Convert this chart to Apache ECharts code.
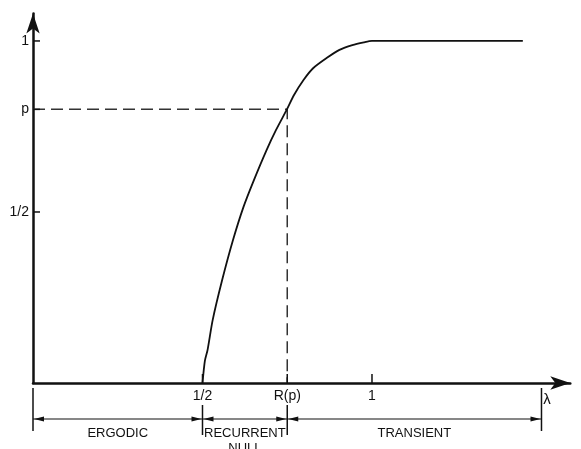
<!DOCTYPE html>
<html><head><meta charset="utf-8">
<script src="https://cdn.jsdelivr.net/npm/echarts@6/dist/echarts.min.js"></script>
<style>html,body{margin:0;padding:0;background:#fff}#c{width:581px;height:449px}</style>
</head><body><div id="c"></div>
<script>
// ---- data ----
const curveLambda = [0.5, 0.507, 0.515, 0.530, 0.558, 0.590, 0.621, 0.652, 0.689, 0.717, 0.749, 0.770, 0.798, 0.827, 0.866, 0.904, 0.942, 0.976, 1.0, 1.445];
const curveValue  = [0,   0.065, 0.097, 0.184, 0.301, 0.418, 0.515, 0.594, 0.681, 0.740, 0.800, 0.842, 0.886, 0.921, 0.950, 0.974, 0.988, 0.996, 1,   1];
const pValue = 0.8;
const rOfP = 0.75;
const xTickValues = [0.5, 0.75, 1];
const xTickLabels = ['1/2', 'R(p)', '1'];
const yTickValues = [0.5, 0.8, 1];
const yTickLabels = ['1/2', 'p', '1'];
const regionBounds = [0, 0.5, 0.75, 1.5];
const regionNames = ['ERGODIC', 'RECURRENT\nNULL', 'TRANSIENT'];
const xAxisName = 'λ';

// ---- chart ----
const FONT = 'Liberation Sans';
const INK = '#111';
const chart = echarts.init(document.getElementById('c'), null, {renderer: 'canvas'});

function arrowHead(x, y, dir) { // dir: -1 left, +1 right ; tip at x
  const L = 10, W = 2.6;
  return {type: 'polygon', shape: {points: [[x, y], [x - dir * L, y - W], [x - dir * L, y + W]]},
          style: {fill: INK}};
}

const option = {
  animation: false,
  backgroundColor: '#fff',
  grid: {left: 33, right: 10.7, top: 13.6, bottom: 66, containLabel: false, outerBoundsMode: 'none'},
  xAxis: {
    type: 'value', min: 0, max: 1.585,
    name: xAxisName, nameLocation: 'end', nameGap: -27,
    nameTextStyle: {fontFamily: FONT, fontSize: 15, color: INK, align: 'left', verticalAlign: 'top', padding: [9, 0, 0, 0]},
    axisLine: {onZero: false, symbol: ['none', 'arrow'], symbolSize: [10, 20], lineStyle: {color: INK, width: 2.5}},
    axisTick: {show: false}, axisLabel: {show: false}, splitLine: {show: false}
  },
  yAxis: {
    type: 'value', min: 0, max: 1.08,
    axisLine: {onZero: false, symbol: ['none', 'arrow'], symbolSize: [10, 20], lineStyle: {color: INK, width: 2.5}},
    axisTick: {show: false}, axisLabel: {show: false}, splitLine: {show: false}
  },
  series: [
    { // the curve
      type: 'line', data: curveLambda.map((x, i) => [x, curveValue[i]]),
      showSymbol: false, smooth: 0.25,
      lineStyle: {color: INK, width: 1.8}, silent: true, z: 5
    },
    { // dashed guide p -> R(p)
      type: 'line', data: [[0, pValue], [rOfP, pValue], [rOfP, 0]],
      showSymbol: false, clip: false,
      lineStyle: {color: '#333', width: 1.5, type: [12, 6]}, silent: true, z: 4
    },
    { // y ticks and labels
      type: 'custom', coordinateSystem: 'cartesian2d', clip: false, silent: true, z: 6,
      data: yTickValues.map(v => [0, v]),
      renderItem: function (params, api) {
        const pt = api.coord([api.value(0), api.value(1)]);
        return {type: 'group', children: [
          {type: 'line', shape: {x1: pt[0], y1: pt[1], x2: pt[0] + 7, y2: pt[1]}, style: {stroke: INK, lineWidth: 1.5}},
          {type: 'text', x: pt[0] - 4, y: pt[1], style: {text: yTickLabels[params.dataIndex], fontFamily: FONT, fontSize: 14,
            fill: INK, align: 'right', verticalAlign: 'middle'}}
        ]};
      }
    },
    { // x ticks and labels
      type: 'custom', coordinateSystem: 'cartesian2d', clip: false, silent: true, z: 6,
      data: xTickValues.map(v => [v, 0]),
      renderItem: function (params, api) {
        const pt = api.coord([api.value(0), api.value(1)]);
        return {type: 'group', children: [
          {type: 'line', shape: {x1: pt[0], y1: pt[1], x2: pt[0], y2: pt[1] - 9}, style: {stroke: INK, lineWidth: 1.5}},
          {type: 'text', x: pt[0], y: pt[1] + 6, style: {text: xTickLabels[params.dataIndex], fontFamily: FONT, fontSize: 14,
            fill: INK, align: 'center', verticalAlign: 'top'}}
        ]};
      }
    },
    { // region boundaries below the axis
      type: 'custom', coordinateSystem: 'cartesian2d', clip: false, silent: true, z: 6,
      data: regionBounds.map(v => [v, 0]),
      renderItem: function (params, api) {
        const v = api.value(0);
        const pt = api.coord([v, 0]);
        let y1 = pt[1] + 5, y2 = pt[1] + 48;
        if (xTickValues.indexOf(v) >= 0) { y1 = pt[1] + 22; y2 = pt[1] + 52; }
        return {type: 'line', shape: {x1: pt[0], y1: y1, x2: pt[0], y2: y2},
                style: {stroke: INK, lineWidth: 1.5}};
      }
    },
    { // region arrows and names
      type: 'custom', coordinateSystem: 'cartesian2d', clip: false, silent: true, z: 6,
      encode: {x: [0, 1]},
      data: regionNames.map((n, i) => [regionBounds[i], regionBounds[i + 1]]),
      renderItem: function (params, api) {
        const a = api.coord([api.value(0), 0]);
        const b = api.coord([api.value(1), 0]);
        const y = a[1] + 36;
        return {type: 'group', children: [
          {type: 'line', shape: {x1: a[0], y1: y, x2: b[0], y2: y}, style: {stroke: INK, lineWidth: 1.2}},
          arrowHead(a[0] + 1, y, -1),
          arrowHead(b[0] - 1, y, 1),
          {type: 'text', x: (a[0] + b[0]) / 2, y: a[1] + 43,
           style: {text: regionNames[params.dataIndex], fontFamily: FONT, fontSize: 13, lineHeight: 15,
                   fill: INK, align: 'center', verticalAlign: 'top'}}
        ]};
      }
    }
  ]
};
chart.setOption(option);
</script>
</body></html>
